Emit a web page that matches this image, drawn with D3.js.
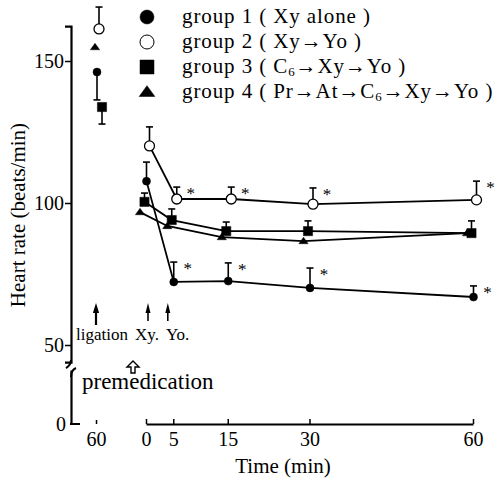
<!DOCTYPE html>
<html>
<head>
<meta charset="utf-8">
<script src="https://cdn.jsdelivr.net/npm/d3@7"></script>
<style>
body { margin: 0; background: #fff; }
svg, svg text { font-family: "Liberation Serif", "DejaVu Serif", serif; }
</style>
</head>
<body>
<div class="container"></div>
<script>
// time points after premedication (min)
var times = [0, 5, 15, 30, 60];
var timeTicks = [0, 5, 15, 30, 60];
var hrTicks = [50, 100, 150];

var groupNames = ["group 1 ( Xy alone )", "group 2 ( Xy\u2192Yo )",
  "group 3 ( C_6\u2192Xy\u2192Yo )", "group 4 ( Pr\u2192At\u2192C_6\u2192Xy\u2192Yo )"];

// heart rate before ligation ("60" min before), and its error bar (negative = drawn downward)
var ligationHR = [146.1, 161.3, 133.8, 154.9];
var ligationErr = [-9.8, 7.7, -6.0, 0];

var g1HR = [107.7, 72.2, 72.5, 70.1, 66.9];
var g1Err = [6.7, 7.0, 6.4, 7.0, 3.9];
var g2HR = [120.1, 101.4, 101.4, 99.6, 101.1];
var g2Err = [6.7, 4.2, 4.2, 5.7, 6.6];
var g3HR = [100.4, 94.0, 90.1, 90.1, 89.4];
var g3Err = [3.1, 3.9, 3.2, 3.6, 4.3];
var g4HR = [96.8, 91.9, 88.0, 86.6, 89.4];
var g4Err = [0, 0, 0, 0, 0];

var g1Sig = [false, true, true, true, true];
var g2Sig = [false, true, true, true, true];
var g3Sig = [false, false, false, false, false];
var g4Sig = [false, false, false, false, false];

var annotLabels = ["ligation", "Xy.", "Yo."];

var w = 497, h = 484;

var svg = d3.select('.container').append('svg')
  .attr('width', w)
  .attr('height', h);

// scales
var xScale = d3.scaleLinear().domain([0, 60]).range([146, 473]);
var xPre = d3.scalePoint().domain(["60"]).range([96, 96]);
var yScale = d3.scaleLinear().domain([50, 150]).range([345, 61]);
var yLow = d3.scaleLinear().domain([0, 19]).range([424, 370]);

// small horizontal shifts so overlapping groups stay visible
var shiftAfter = [0.5, 3.5, -1.5, -6];
var shiftPre = [1, 3, 6, -1];

function styleAxis(g) {
  g.attr('font-family', null).attr('font-size', null);
  g.select('.domain').attr('stroke-width', 2.2);
  g.selectAll('.tick line').attr('stroke-width', 1.5);
  g.selectAll('.tick text').style('font-size', '20px').attr('fill', '#000');
}

// y axis (upper part)
var yAxisScale = yScale.copy().domain([44, 162.3]).range([yScale(44), yScale(162.3)]);
var yAxisG = svg.append('g')
  .attr('transform', 'translate(71,0)')
  .call(d3.axisLeft(yAxisScale).tickValues(hrTicks).tickSizeOuter(0).tickSize(6).tickPadding(1));
styleAxis(yAxisG);

// y axis (lower part, 0)
var yLowG = svg.append('g')
  .attr('transform', 'translate(71,0)')
  .call(d3.axisLeft(yLow).tickValues([0]).tickSizeOuter(0).tickSize(0).tickPadding(5));
styleAxis(yLowG);
svg.append('line')
  .attr('x1', 70).attr('x2', 80).attr('y1', yLow(0)).attr('y2', yLow(0))
  .attr('stroke', '#000').attr('stroke-width', 2);

// axis break marks
svg.append('path')
  .attr('d', 'M71,' + (yAxisScale(44) - 2) + ' q0,5 -5,8')
  .attr('fill', 'none').attr('stroke', '#000').attr('stroke-width', 2);
svg.append('path')
  .attr('d', 'M76,' + (yLow(19) - 2) + ' q-5,2 -5,9')
  .attr('fill', 'none').attr('stroke', '#000').attr('stroke-width', 2);

// x axis
var xAxisG = svg.append('g')
  .attr('transform', 'translate(0,' + yLow(0) + ')')
  .call(d3.axisBottom(xScale).tickValues(timeTicks).tickSizeInner(-5).tickSizeOuter(0).tickPadding(8));
styleAxis(xAxisG);

var xPreG = svg.append('g')
  .attr('transform', 'translate(0,' + yLow(0) + ')')
  .call(d3.axisBottom(xPre).tickSizeInner(-4).tickSizeOuter(0).tickPadding(8));
styleAxis(xPreG);
xPreG.select('.domain').remove();

// axis titles
svg.append('text')
  .attr('transform', 'rotate(-90)')
  .attr('x', -215)
  .attr('y', 25)
  .attr('text-anchor', 'middle')
  .style('font-size', '21px')
  .text('Heart rate (beats/min)');

svg.append('text')
  .attr('x', 283)
  .attr('y', 473)
  .attr('text-anchor', 'middle')
  .style('font-size', '21px')
  .text('Time (min)');

// symbols
function markerPath(type, s) {
  if (type === 'circle') return d3.symbol().type(d3.symbolCircle).size(Math.PI * s * s)();
  if (type === 'square') return d3.symbol().type(d3.symbolSquare).size(4 * s * s)();
  return 'M0,' + (-s * 0.85) + 'L' + (s * 1.05) + ',' + (s * 0.6) + 'L' + (-s * 1.05) + ',' + (s * 0.6) + 'Z';
}
var markerType = ['circle', 'circle', 'square', 'triangle'];
var markerFill = ['#000', '#fff', '#000', '#000'];
var markerSize = [4, 5, 4.6, 4.4];

var hrs = [g1HR, g2HR, g3HR, g4HR];
var errs = [g1Err, g2Err, g3Err, g4Err];
var sigs = [g1Sig, g2Sig, g3Sig, g4Sig];

var line = d3.line()
  .x(function(d) { return d.x; })
  .y(function(d) { return d.y; });

// draw order: 4, 3, 1, 2
[3, 2, 0, 1].forEach(function(g) {
  var pts = times.map(function(t, i) {
    return { x: xScale(t) + shiftAfter[g], y: yScale(hrs[g][i]), v: hrs[g][i], e: errs[g][i], s: sigs[g][i] };
  });
  var pre = { x: xPre("60") + shiftPre[g], y: yScale(ligationHR[g]), v: ligationHR[g], e: ligationErr[g], s: false };

  var grp = svg.append('g');

  grp.append('path')
    .datum(pts)
    .attr('d', line)
    .attr('fill', 'none')
    .attr('stroke', '#000')
    .attr('stroke-width', 1.8);

  var all = [pre].concat(pts);
  all.forEach(function(p) {
    if (p.e !== 0) {
      var yEnd = yScale(p.v + p.e);
      grp.append('line')
        .attr('x1', p.x).attr('x2', p.x)
        .attr('y1', p.y).attr('y2', yEnd)
        .attr('stroke', '#000').attr('stroke-width', 1.6);
      grp.append('line')
        .attr('x1', p.x - 3.5).attr('x2', p.x + 3.5)
        .attr('y1', yEnd).attr('y2', yEnd)
        .attr('stroke', '#000').attr('stroke-width', 1.6);
    }
    grp.append('path')
      .attr('d', markerPath(markerType[g], markerSize[g]))
      .attr('transform', 'translate(' + p.x + ',' + p.y + ')')
      .attr('fill', markerFill[g])
      .attr('stroke', '#000')
      .attr('stroke-width', g === 1 ? 1.3 : 0.5);
    if (p.s) {
      grp.append('text')
        .attr('x', p.x + 14)
        .attr('y', yScale(p.v + p.e) + 12)
        .attr('text-anchor', 'middle')
        .attr('fill', '#000')
        .style('font-size', '17px')
        .text('*');
    }
  });
});

// legend
var legendY = d3.scaleLinear().domain([0, 3]).range([17, 92]);
var legendSize = [7, 7, 7, 7.5];
groupNames.forEach(function(name, i) {
  svg.append('path')
    .attr('d', markerPath(markerType[i], legendSize[i]))
    .attr('transform', 'translate(147,' + legendY(i) + ')')
    .attr('fill', markerFill[i])
    .attr('stroke', '#000')
    .attr('stroke-width', i === 1 ? 1 : 0.5);
  var t = svg.append('text')
    .attr('x', 182)
    .attr('y', legendY(i) + 6)
    .style('font-size', '21px')
    .style('letter-spacing', '0.9px');
  name.split('_').forEach(function(part, k) {
    if (k === 0) {
      t.append('tspan').text(part);
    } else {
      t.append('tspan').attr('dy', 3).style('font-size', '13px').text(part.charAt(0));
      t.append('tspan').attr('dy', -3).text(part.slice(1));
    }
  });
});

// annotation arrows
var annotX = [xPre("60"), xScale(0) + 2, xScale(4)];
var annotTextX = [76, 135, 166];
var annotHead = [5, 4, 4];
annotLabels.forEach(function(lbl, i) {
  var x = annotX[i];
  svg.append('line')
    .attr('x1', x).attr('x2', x)
    .attr('y1', 310).attr('y2', i === 0 ? 325 : 321)
    .attr('stroke', '#000').attr('stroke-width', i === 0 ? 2.2 : 1.6);
  svg.append('path')
    .attr('d', 'M' + x + ',303 L' + (x + annotHead[i] / 1.6) + ',313 L' + (x - annotHead[i] / 1.6) + ',313 Z')
    .attr('fill', '#000');
  svg.append('text')
    .attr('x', annotTextX[i])
    .attr('y', 340)
    .style('font-size', '17px')
    .text(lbl);
});

// premedication hollow arrow
svg.append('path')
  .attr('d', 'M133,361 L139,367 L135,367 L135,373 L131,373 L131,367 L127,367 Z')
  .attr('fill', '#fff')
  .attr('stroke', '#000')
  .attr('stroke-width', 1.4);
svg.append('text')
  .attr('x', 82)
  .attr('y', 389)
  .style('font-size', '23px')
  .text('premedication');
</script>
</body>
</html>
